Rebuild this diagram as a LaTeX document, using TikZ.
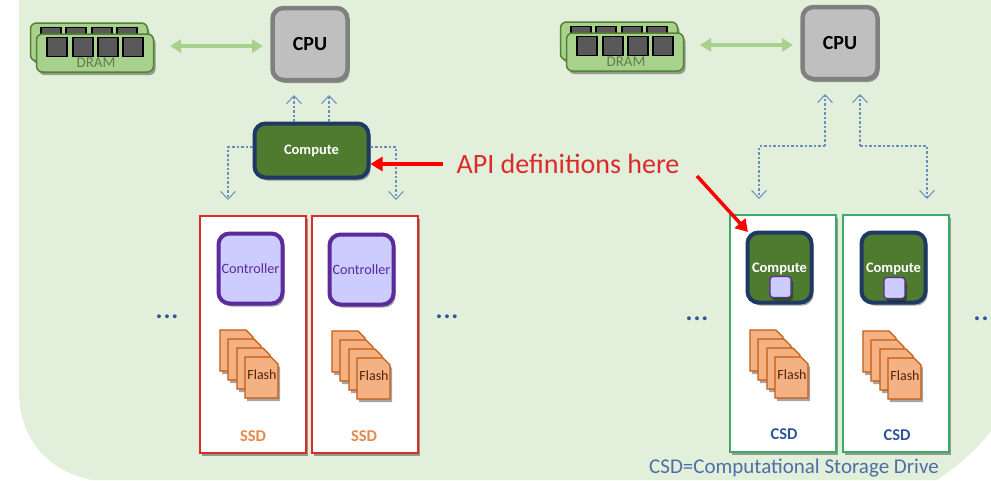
\documentclass[tikz,border=0pt]{standalone}
\usepackage{fontspec}
\setmainfont{Carlito}
\usepackage{tikz}
\usetikzlibrary{arrows.meta}
\usetikzlibrary{shadows}
\definecolor{panel}{HTML}{E2EFDA}
\definecolor{leaf}{HTML}{4E7B2F}
\definecolor{navy}{HTML}{1F3864}
\definecolor{ram}{HTML}{A9D18E}
\definecolor{ramline}{HTML}{548235}
\definecolor{lilac}{HTML}{CCCCFF}
\definecolor{violet}{HTML}{5B2A9B}
\definecolor{peach}{HTML}{F4B183}
\definecolor{rust}{HTML}{C55A11}
\definecolor{sky}{HTML}{6C8EBF}
\definecolor{inkblue}{HTML}{2F5597}
\definecolor{teal}{HTML}{3DAA6B}
\definecolor{brick}{HTML}{DC2B2B}
\definecolor{amber}{HTML}{E8894A}
\tikzset{
    soft/.style = {drop shadow={shadow xshift=2pt, shadow yshift=-3pt, opacity=0.35, fill=black}},
    box_node/.style = {align=center, inner sep=0pt, text centered, rounded corners=11pt, soft},
    cpu_node/.style = {box_node, draw=gray, fill=black!25, line width=4.5pt, minimum width=75pt, minimum height=72pt, font=\fontsize{20}{20}\selectfont\bfseries},
    compute_node/.style = {box_node, draw=navy, fill=leaf, line width=4pt, text=white, font=\fontsize{14.5}{14.5}\selectfont\bfseries},
    control_node/.style = {box_node, draw=violet, fill=lilac, line width=4pt, text=violet, minimum width=64pt, minimum height=70pt, font=\fontsize{14.2}{14.2}\selectfont},
    cache_node/.style = {box_node, draw=violet, fill=lilac, line width=1.2pt, rounded corners=3pt, minimum width=21pt, minimum height=21pt},
    ssd_node/.style = {draw=brick, fill=white, line width=2pt, minimum width=106pt, minimum height=237pt, inner sep=0pt, soft},
    csd_node/.style = {ssd_node, draw=teal},
    ram_node/.style = {box_node, draw=ramline, fill=ram, line width=1.5pt, rounded corners=6pt, minimum width=117pt, minimum height=38pt},
    chip_node/.style = {draw=black, fill=black!65, line width=1.8pt, minimum width=20pt, minimum height=19pt, inner sep=0pt},
    flash_page/.style = {draw=rust, fill=peach, line width=1.2pt, soft},
    link/.style = {draw=sky, dash pattern=on 2.5pt off 2pt, line width=1.2pt, -{Straight Barb[length=8pt,width=15pt,line width=1pt]}},
    bus/.style = {draw=ram, line width=4pt, {Triangle[length=11pt,width=13pt]}-{Triangle[length=11pt,width=13pt]}},
    note/.style = {draw=red, line width=3.5pt, -{Triangle[length=12pt,width=14pt]}},
    tag/.style = {inner sep=0pt},
    flash_tag/.style = {tag, text=black!60!rust, font=\fontsize{14}{14}\selectfont},
    drive_tag/.style = {tag, font=\fontsize{16.5}{16.5}\selectfont\bfseries},
    more/.style = {tag, text=inkblue, font=\fontsize{26}{26}\selectfont\bfseries\addfontfeature{LetterSpace=4}}
}

\begin{document}
\begin{tikzpicture}[x=1pt, y=-1pt]
    \useasboundingbox (0,0) rectangle (991,480);

    % panel behind everything
    \fill[panel] (19,0) -- (991,0) -- (991,431) .. controls (975,452) and (955,468) .. (937,480)
        -- (92,480) .. controls (50,472) and (19,440) .. (19,392) -- cycle;

    % memory and processor, one pair per side
    \foreach \name/\dx/\dy in {l/0/0, r/530/-1} {
        \node [ram_node] (dimm_back_\name) at (89+\dx,42+\dy) {};
        \foreach \i/\x in {1/51, 2/76, 3/102, 4/127}
            \node [chip_node] (chip_back_\name\i) at (\x+\dx,37+\dy) {};
        \node [ram_node] (dimm_\name) at (95+\dx,53+\dy) {};
        \foreach \i/\x in {1/57, 2/83, 3/108, 4/133}
            \node [chip_node] (chip_\name\i) at (\x+\dx,47+\dy) {};
        \node [tag, text=ramline!75!gray, font=\fontsize{15}{15}\selectfont] (dram_\name) at (96+\dx,63+\dy) {DRAM};
        \node [cpu_node] (cpu_\name) at (310+\dx,44+\dy) {CPU};
        \coordinate (bus_from_\name) at (170+\dx,46+\dy);
        \coordinate (bus_to_\name) at (263+\dx,46+\dy);
        \draw [bus] (bus_from_\name) -- (bus_to_\name);
    }

    % left side
    \node [compute_node, minimum width=114pt, minimum height=54pt] (compute_main) at (311.5,150.5) {Compute};
    \coordinate (up_a) at (294,95);
    \coordinate (up_b) at (329,95);
    \coordinate (bend_a) at (228,147);
    \coordinate (bend_b) at (396,147);
    \coordinate (down_a) at (228,200);
    \coordinate (down_b) at (396,200);
    \draw [link] (up_a |- compute_main.north) -- (up_a);
    \draw [link] (up_b |- compute_main.north) -- (up_b);
    \draw [link] (compute_main.west |- bend_a) -- (bend_a) -- (down_a);
    \draw [link] (compute_main.east |- bend_b) -- (bend_b) -- (down_b);

    \node [ssd_node] (ssd_a) at (252.5,334) {};
    \node [ssd_node] (ssd_b) at (364.5,334.5) {};
    \node [control_node] (ctrl_a) at (250.5,268.5) {Controller};
    \node [control_node] (ctrl_b) at (361.5,269.5) {Controller};

    % right side
    \coordinate (tip_a) at (825,94);
    \coordinate (tip_b) at (860,94);
    \coordinate (elbow_a) at (825,146);
    \coordinate (elbow_b) at (860,146);
    \coordinate (drop_a) at (759,199);
    \coordinate (drop_b) at (927,199);
    \draw [link] (elbow_a) -- (tip_a);
    \draw [link] (elbow_a) -- (drop_a |- elbow_a) -- (drop_a);
    \draw [link] (elbow_b) -- (tip_b);
    \draw [link] (elbow_b) -- (drop_b |- elbow_b) -- (drop_b);

    \node [csd_node] (csd_a) at (782.5,333) {};
    \node [csd_node] (csd_b) at (895.5,333.5) {};
    \node [compute_node, minimum width=64pt, minimum height=70pt, text depth=0pt] (compute_a) at (779.5,267.5) {Compute};
    \node [compute_node, minimum width=64pt, minimum height=70pt, text depth=0pt] (compute_b) at (893.5,267.5) {Compute};
    \node [cache_node] (cache_a) at (780.5,287) {};
    \node [cache_node] (cache_b) at (894.5,288) {};

    % flash stacks
    \foreach \name/\x/\y in {a/220/330, b/332/331, c/750/330, d/863/331} {
        \foreach \ox/\oy in {0/0, 8/9, 17/18, 25/27}
            \draw [flash_page] (\x+\ox,\y+\oy) -- ++(26,0) -- ++(7,7) -- ++(0,34) -- ++(-33,0) -- cycle;
        \node [flash_tag] (flash_\name) at (\x+42,\y+45) {Flash};
    }

    % drive labels
    \node [drive_tag, text=amber] (ssd_label_a) at (253,436) {SSD};
    \node [drive_tag, text=amber] (ssd_label_b) at (364,436) {SSD};
    \node [drive_tag, text=inkblue] (csd_label_a) at (784,434) {CSD};
    \node [drive_tag, text=inkblue] (csd_label_b) at (897,435) {CSD};
    \node [more] (more_a) at (167,317) {...};
    \node [more] (more_b) at (447,317) {...};
    \node [more] (more_c) at (697,319) {...};
    \node [more] (more_d) at (985,319) {...};

    % callout
    \node [tag, text=brick, font=\fontsize{28}{28}\selectfont] (api) at (568,164) {API definitions here};
    \coordinate (api_left) at (443,164);
    \coordinate (api_right) at (697,176);
    \coordinate (api_end) at (748,232);
    \draw [note] (api_left) -- (compute_main.east |- api_left);
    \draw [note] (api_right) -- (api_end);

    \node [tag, text=inkblue!85!white, font=\fontsize{21}{21}\selectfont] (legend) at (794,468) {CSD=Computational Storage Drive};
\end{tikzpicture}
\end{document}
